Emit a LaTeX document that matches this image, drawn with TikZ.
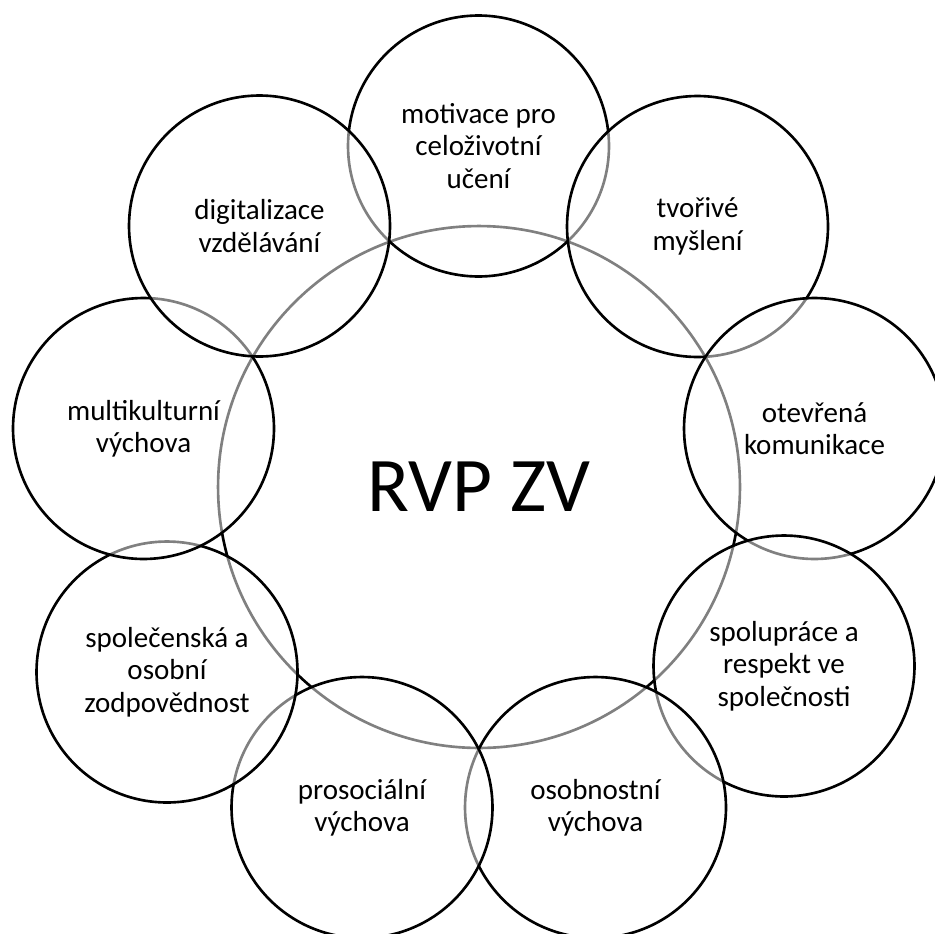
\documentclass[tikz,border=0pt]{standalone}
\usepackage{fontspec}
\setmainfont{Carlito}
\usepackage{tikz}
\tikzset{
  topic/.style={circle, draw=black, line width=1.5pt, fill=white, fill opacity=0.5, text opacity=1, draw opacity=1, minimum size=5.22cm, inner sep=0pt, align=center, font=\fontsize{16.5}{18.4}\selectfont},
  core/.style={topic, minimum size=10.44cm, font=\fontsize{44}{48}\selectfont}
}

\begin{document}
\begin{tikzpicture}[x=0.02cm, y=-0.02cm]
\clip (0,0) rectangle (935,933);
\node[core] (c0) at (479,487) {RVP ZV};
\node[topic] (c1) at (478.5,146) {motivace pro\\celoživotní\\učení};
\node[topic] (c2) at (697.5,226.5) {tvořivé\\myšlení};
\node[topic] (c3) at (814.5,428.5) {otevřená\\komunikace};
\node[topic] (c4) at (784,666) {spolupráce a\\respekt ve\\společnosti};
\node[topic] (c5) at (595.5,807.5) {osobnostní\\výchova};
\node[topic] (c6) at (362,807.5) {prosociální\\výchova};
\node[topic] (c7) at (167,672) {společenská a\\osobní\\zodpovědnost};
\node[topic] (c8) at (143.5,428.5) {multikulturní\\výchova};
\node[topic] (c9) at (259.5,226) {digitalizace\\vzdělávání};
\end{tikzpicture}
\end{document}
